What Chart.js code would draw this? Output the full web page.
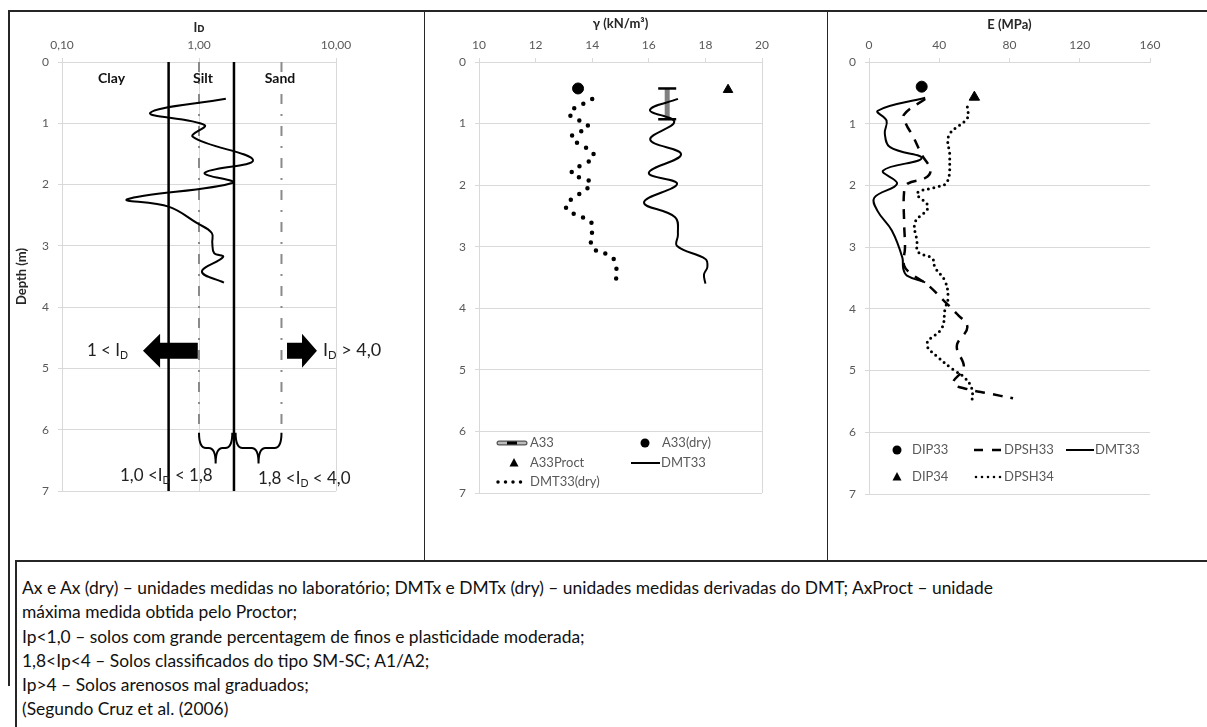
<!DOCTYPE html>
<html><head><meta charset="utf-8">
<script src="https://cdn.jsdelivr.net/npm/chart.js@4.4.1/dist/chart.umd.min.js"></script>
<style>
html,body{margin:0;padding:0;background:#fff;width:1207px;height:727px;overflow:hidden;position:relative;}
#frame{position:absolute;left:8px;top:10px;width:1220px;height:676px;border-left:2px solid #262626;border-top:2px solid #262626;box-sizing:border-box;}
.sep{position:absolute;top:10px;height:552px;width:0;border-left:1.5px solid #262626;}
canvas{position:absolute;}
#caption{position:absolute;left:15px;top:560px;width:1230px;height:200px;border:2px solid #262626;background:#fff;box-sizing:border-box;padding:14px 0 0 5px;font-family:Lato,'Open Sans',sans-serif;font-size:17.4px;line-height:24.3px;color:#111;white-space:nowrap;}
</style></head>
<body>
<div id="frame"></div>
<div class="sep" style="left:424px"></div>
<div class="sep" style="left:827px"></div>
<canvas id="c1" width="414" height="549" style="left:9px;top:11px;width:414px;height:549px"></canvas>
<canvas id="c2" width="401" height="549" style="left:425px;top:11px;width:401px;height:549px"></canvas>
<canvas id="c3" width="378" height="549" style="left:829px;top:11px;width:378px;height:549px"></canvas>
<div id="caption">
Ax e Ax (dry) – unidades medidas no laboratório; DMTx e DMTx (dry) – unidades medidas derivadas do DMT; AxProct – unidade<br>
máxima medida obtida pelo Proctor;<br>
Ip&lt;1,0 – solos com grande percentagem de finos e plasticidade moderada;<br>
1,8&lt;Ip&lt;4 – Solos classificados do tipo SM-SC; A1/A2;<br>
Ip&gt;4 – Solos arenosos mal graduados;<br>
(Segundo Cruz et al. (2006)
</div>
<script>
// ---------------- DATA ----------------
const depthTicks = [0, 1, 2, 3, 4, 5, 6, 7];

// Panel 1 : ID (log)
const idTicks = [0.1, 1, 10];
const idTickLabels = ['0,10', '1,00', '10,00'];
const idDepth = [0.6, 0.83, 1.03, 1.22, 1.6, 1.81, 1.97, 2.24, 2.36, 2.63, 2.79, 2.95, 3.12, 3.18, 3.42, 3.6];
const idValue = [1.57, 0.44, 1.1, 0.9, 2.48, 1.1, 1.77, 0.30, 0.6, 0.97, 1.24, 1.25, 1.29, 1.5, 1.05, 1.52];
const idBoundSolid = [0.6, 1.8];
const idBoundDashDot = [1.0, 4.0];
const dashDotEndDepth = 6.05;
const zoneLabels = ['Clay', 'Silt', 'Sand'];
const zoneLabelId = [0.23, 1.07, 3.9];
const zoneLabelDepth = 0.27;
// arrows: [tail, head base, tip] in ID units; depth of centre
const arrowLeftId = [0.98, 0.52, 0.39];
const arrowRightId = [4.39, 5.65, 7.26];
const arrowDepth = 4.71;
const arrowLabels = [
  {parts: [['1 < I', 0], ['D', 1]], id: 0.152, depth: 4.70, size: 17},
  {parts: [['I', 0], ['D', 1], [' > 4,0', 0]], id: 8.04, depth: 4.70, size: 18}
];
const braceRanges = [[1.0, 1.75], [1.85, 4.0]];
const braceTopDepth = 6.05, braceTipDepth = 6.55;
const rangeLabels = [
  {parts: [['1,0 <I', 0], ['D', 1], [' < 1,8', 0]], id: 0.265, depth: 6.74, size: 17},
  {parts: [['1,8 <I', 0], ['D', 1], [' < 4,0', 0]], id: 2.69, depth: 6.79, size: 17}
];

// Panel 2 : gamma
const gammaTicks = [10, 12, 14, 16, 18, 20];
const a33Gamma = [16.65, 16.65];
const a33Depth = [0.43, 0.93];
const a33DryGamma = [13.5], a33DryDepth = [0.43];
const a33ProctGamma = [18.8], a33ProctDepth = [0.45];
const dmt33Gamma = [17.03, 16.04, 16.9, 16.05, 17.14, 16.0, 17.0, 15.83, 16.93, 17.03, 17.0, 18.0, 18.07, 17.95, 18.0];
const dmt33GammaDepth = [0.6, 0.78, 0.97, 1.26, 1.5, 1.8, 1.98, 2.28, 2.52, 2.8, 2.99, 3.2, 3.33, 3.45, 3.6];
const dmt33Dry = [14.0, 13.2, 13.86, 13.27, 14.06, 13.27, 13.95, 13.07, 13.95, 14.0, 13.95, 14.03, 14.67, 14.84, 14.84];
const dmt33DryDepth = [0.6, 0.84, 1.05, 1.22, 1.52, 1.8, 1.97, 2.35, 2.6, 2.73, 2.9, 3.03, 3.16, 3.3, 3.6];

// Panel 3 : E
const eTicks = [0, 40, 80, 120, 160];
const dip33E = [30], dip33Depth = [0.4];
const dip34E = [60], dip34Depth = [0.57];
const dmt33E = [32, 5, 10, 9, 12, 30, 8, 16, 3, 5, 13, 19, 19.5, 21.6, 32];
const dmt33EDepth = [0.58, 0.79, 0.95, 1.16, 1.38, 1.56, 1.76, 1.97, 2.2, 2.42, 2.73, 3.17, 3.35, 3.46, 3.57];
const dpsh33E = [32, 20, 21, 25, 30, 35, 32, 22, 20, 20, 20.5, 20, 25, 33, 42, 50, 56, 50, 54, 48, 56, 68, 82];
const dpsh33Depth = [0.6, 0.85, 1.0, 1.2, 1.5, 1.75, 1.88, 1.97, 2.1, 2.6, 3.0, 3.3, 3.45, 3.6, 3.85, 4.08, 4.3, 4.6, 4.95, 5.2, 5.3, 5.37, 5.45];
const dpsh34E = [56, 56, 45.5, 46, 44.4, 37.6, 27.4, 33.6, 26.2, 27.3, 28, 36, 37.6, 43.3, 45, 43.3, 41.5, 33, 40.4, 47.8, 54.6, 58.6, 58.6];
const dpsh34Depth = [0.73, 0.91, 1.19, 1.54, 1.95, 2.03, 2.13, 2.35, 2.6, 2.9, 3.08, 3.18, 3.33, 3.55, 3.82, 4.0, 4.31, 4.57, 4.81, 4.98, 5.12, 5.3, 5.53];

// ---------------- STYLE / HELPERS ----------------
const FONT = "Lato, 'Open Sans', sans-serif";
const GRID = '#d9d9d9';
const TICK = '#595959';
const TITLE = '#262626';
const series = (xs, ys) => xs.map((x, i) => ({x: x, y: ys[i]}));

function baseOptions(cfg) {
  return {
    responsive: false, animation: false, devicePixelRatio: 1,
    layout: {padding: {left: 0, top: 0, right: cfg.padR, bottom: cfg.padB}},
    plugins: {legend: {display: false}, tooltip: {enabled: false}},
    elements: {point: {radius: 0}},
    scales: {
      x: {
        type: cfg.xType, position: 'top', min: cfg.xMin, max: cfg.xMax,
        afterBuildTicks: (s) => { s.ticks = cfg.xTicks.map(v => ({value: v})); },
        afterFit: (s) => { s.height = cfg.xH; },
        ticks: {autoSkip: false, maxRotation: 0, color: TICK, font: {family: FONT, size: 12}, padding: 6,
          callback: (v) => cfg.xLabels[cfg.xTicks.indexOf(v)]},
        grid: {drawOnChartArea: true, color: cfg.xGrid, tickColor: GRID, tickLength: 4},
        border: {color: GRID},
        title: {display: true, text: cfg.xTitle, color: TITLE, font: {family: FONT, size: 13, weight: 'bold'},
          padding: {top: cfg.xTitlePad, bottom: 0}}
      },
      y: {
        type: 'linear', reverse: true, min: 0, max: 7,
        afterBuildTicks: (s) => { s.ticks = depthTicks.map(v => ({value: v})); },
        afterFit: (s) => { s.width = cfg.yW; },
        ticks: {color: TICK, font: {family: FONT, size: 12}, padding: 9, callback: (v) => String(v)},
        grid: {color: GRID, tickColor: GRID, tickLength: 4},
        border: {color: GRID},
        title: {display: !!cfg.yTitle, text: cfg.yTitle || '', color: TITLE,
          font: {family: FONT, size: 13, weight: 'bold'}, padding: {top: 5, bottom: 0}}
      }
    }
  };
}

function richText(ctx, x, y, parts, size, color) {
  ctx.save();
  ctx.fillStyle = color; ctx.textBaseline = 'middle'; ctx.textAlign = 'left';
  let cx = x;
  for (const [t, sub] of parts) {
    const fs = sub ? size * 0.62 : size;
    ctx.font = fs + 'px ' + FONT;
    ctx.fillText(t, cx, sub ? y + size * 0.32 : y);
    cx += ctx.measureText(t).width;
  }
  ctx.restore();
}

function drawSymbol(ctx, sym, x0, x1, y) {
  ctx.save();
  ctx.fillStyle = '#000'; ctx.strokeStyle = '#000';
  const xm = (x0 + x1) / 2;
  if (sym === 'circle') {
    ctx.beginPath(); ctx.arc(xm, y, 4.5, 0, Math.PI * 2); ctx.fill();
  } else if (sym === 'triangle') {
    ctx.beginPath(); ctx.moveTo(xm, y - 5); ctx.lineTo(xm + 4.5, y + 3.5); ctx.lineTo(xm - 4.5, y + 3.5); ctx.closePath(); ctx.fill();
  } else if (sym === 'line') {
    ctx.lineWidth = 2; ctx.beginPath(); ctx.moveTo(x0, y); ctx.lineTo(x1, y); ctx.stroke();
  } else if (sym === 'dash') {
    ctx.lineWidth = 2.5; ctx.setLineDash([9, 9]); ctx.beginPath(); ctx.moveTo(x0, y); ctx.lineTo(x1, y); ctx.stroke();
  } else if (sym === 'dots') {
    ctx.lineWidth = 3.5; ctx.lineCap = 'round'; ctx.setLineDash([0, 7.5]);
    ctx.beginPath(); ctx.moveTo(x0 + 2, y); ctx.lineTo(x1, y); ctx.stroke();
  } else if (sym === 'dots4') {
    ctx.lineWidth = 2.6; ctx.lineCap = 'round'; ctx.setLineDash([0, 6]);
    ctx.beginPath(); ctx.moveTo(x0 + 2, y); ctx.lineTo(x1, y); ctx.stroke();
  } else if (sym === 'a33') {
    ctx.lineCap = 'round';
    ctx.strokeStyle = '#555'; ctx.lineWidth = 5; ctx.beginPath(); ctx.moveTo(x0 + 2, y); ctx.lineTo(x1 - 2, y); ctx.stroke();
    ctx.strokeStyle = '#bbb'; ctx.lineWidth = 2.5; ctx.beginPath(); ctx.moveTo(x0 + 2, y); ctx.lineTo(x1 - 2, y); ctx.stroke();
    ctx.strokeStyle = '#000'; ctx.lineWidth = 3; ctx.lineCap = 'butt'; ctx.beginPath(); ctx.moveTo(xm - 5, y); ctx.lineTo(xm + 5, y); ctx.stroke();
  }
  ctx.restore();
}

function legendPlugin(items) {
  return {
    id: 'insideLegend',
    afterDraw(chart) {
      const ctx = chart.ctx, a = chart.chartArea;
      for (const it of items) {
        drawSymbol(ctx, it.sym, a.left + it.x0, a.left + it.x1, a.top + it.dy);
        ctx.save();
        ctx.fillStyle = TICK; ctx.font = '13px ' + FONT; ctx.textBaseline = 'middle'; ctx.textAlign = 'left';
        ctx.fillText(it.label, a.left + it.tx, a.top + it.dy);
        ctx.restore();
      }
    }
  };
}

// ---------------- PANEL 1 ----------------
const annotPlugin = {
  id: 'idAnnotations',
  afterDatasetsDraw(chart) {
    const ctx = chart.ctx, xs = chart.scales.x, ys = chart.scales.y;
    const px = v => xs.getPixelForValue(v), py = v => ys.getPixelForValue(v);
    ctx.save();
    // zone labels
    ctx.fillStyle = '#111'; ctx.font = 'bold 14px ' + FONT; ctx.textAlign = 'center'; ctx.textBaseline = 'middle';
    zoneLabels.forEach((t, i) => ctx.fillText(t, px(zoneLabelId[i]), py(zoneLabelDepth)));
    // arrows
    const yc = py(arrowDepth);
    const drawArrow = (ids) => {
      const [tail, base, tip] = ids.map(px);
      ctx.beginPath();
      ctx.moveTo(tail, yc - 8); ctx.lineTo(base, yc - 8); ctx.lineTo(base, yc - 17);
      ctx.lineTo(tip, yc); ctx.lineTo(base, yc + 17); ctx.lineTo(base, yc + 8); ctx.lineTo(tail, yc + 8);
      ctx.closePath(); ctx.fillStyle = '#000'; ctx.fill();
    };
    drawArrow(arrowLeftId); drawArrow(arrowRightId);
    // braces
    ctx.strokeStyle = '#000'; ctx.lineWidth = 2;
    const yt = py(braceTopDepth), yb = py(braceTipDepth), h = yb - yt, q = h / 2, r = 7;
    braceRanges.forEach(([a, b]) => {
      const x1 = px(a), x2 = px(b), xm = (x1 + x2) / 2;
      ctx.beginPath();
      ctx.moveTo(x1, yt);
      ctx.quadraticCurveTo(x1, yt + q, x1 + r, yt + q);
      ctx.lineTo(xm - r, yt + q);
      ctx.quadraticCurveTo(xm, yt + q, xm, yb);
      ctx.quadraticCurveTo(xm, yt + q, xm + r, yt + q);
      ctx.lineTo(x2 - r, yt + q);
      ctx.quadraticCurveTo(x2, yt + q, x2, yt);
      ctx.stroke();
    });
    ctx.restore();
    arrowLabels.forEach(l => richText(ctx, px(l.id), py(l.depth), l.parts, l.size, '#222'));
    rangeLabels.forEach(l => richText(ctx, px(l.id), py(l.depth), l.parts, l.size, '#222'));
  }
};

const opt1 = baseOptions({xType: 'logarithmic', xMin: 0.1, xMax: 10, xTicks: idTicks, xLabels: idTickLabels,
  xGrid: GRID, xTitle: 'Iᴅ', xTitlePad: 9, xH: 51, yW: 53, padR: 87, padB: 69, yTitle: 'Depth (m)'});
new Chart(document.getElementById('c1'), {
  type: 'scatter',
  data: {datasets: [
    {label: 'ID', data: series(idValue, idDepth), showLine: true, borderColor: '#000', borderWidth: 2, pointRadius: 0, tension: 0.4},
    ...idBoundSolid.map(v => ({label: 'bound ' + v, data: [{x: v, y: 0}, {x: v, y: 7}], showLine: true,
      borderColor: '#000', borderWidth: 2.5, pointRadius: 0, tension: 0})),
    ...idBoundDashDot.map(v => ({label: 'limit ' + v, data: [{x: v, y: 0}, {x: v, y: dashDotEndDepth}], showLine: true,
      borderColor: '#8a8a8a', borderWidth: 2, borderDash: [10, 10, 2, 10], pointRadius: 0, tension: 0}))
  ]},
  options: opt1,
  plugins: [annotPlugin]
});

// ---------------- PANEL 2 ----------------
const opt2 = baseOptions({xType: 'linear', xMin: 10, xMax: 20, xTicks: gammaTicks, xLabels: gammaTicks.map(String),
  xGrid: (c) => (c.tick && c.tick.value === 20) ? GRID : 'rgba(0,0,0,0)', xTitle: 'γ (kN/m³)', xTitlePad: 5,
  xH: 51, yW: 54, padR: 64, padB: 67});
new Chart(document.getElementById('c2'), {
  type: 'scatter',
  data: {datasets: [
    {label: 'A33(dry)', data: series(a33DryGamma, a33DryDepth), pointStyle: 'circle', pointRadius: 5.5, backgroundColor: '#000', borderColor: '#000'},
    {label: 'A33Proct', data: series(a33ProctGamma, a33ProctDepth), pointStyle: 'triangle', pointRadius: 5.5, backgroundColor: '#000', borderColor: '#000'},
    {label: 'DMT33', data: series(dmt33Gamma, dmt33GammaDepth), showLine: true, borderColor: '#000', borderWidth: 2, pointRadius: 0, tension: 0.4},
    {label: 'A33', data: series(a33Gamma, a33Depth), showLine: true, borderColor: '#808080', borderWidth: 5, tension: 0,
      pointStyle: 'line', pointRadius: 9, pointBorderColor: '#000', pointBorderWidth: 2.5},
    {label: 'DMT33(dry)', data: series(dmt33Dry, dmt33DryDepth), showLine: true, borderColor: '#000', borderWidth: 4.5,
      borderDash: [0, 10], borderCapStyle: 'round', pointRadius: 0, tension: 0.4}
  ]},
  options: opt2,
  plugins: [legendPlugin([
    {sym: 'a33', x0: 18, x1: 48, dy: 381, tx: 51, label: 'A33'},
    {sym: 'circle', x0: 160, x1: 172, dy: 381, tx: 183, label: 'A33(dry)'},
    {sym: 'triangle', x0: 29, x1: 41, dy: 401, tx: 51, label: 'A33Proct'},
    {sym: 'line', x0: 152, x1: 181, dy: 401, tx: 182, label: 'DMT33'},
    {sym: 'dots', x0: 17, x1: 42, dy: 420, tx: 51, label: 'DMT33(dry)'}
  ])]
});

// ---------------- PANEL 3 ----------------
const opt3 = baseOptions({xType: 'linear', xMin: 0, xMax: 160, xTicks: eTicks, xLabels: eTicks.map(String),
  xGrid: 'rgba(0,0,0,0)', xTitle: 'E (MPa)', xTitlePad: 6, xH: 51, yW: 40, padR: 57, padB: 66});
new Chart(document.getElementById('c3'), {
  type: 'scatter',
  data: {datasets: [
    {label: 'DIP33', data: series(dip33E, dip33Depth), pointStyle: 'circle', pointRadius: 5.5, backgroundColor: '#000', borderColor: '#000'},
    {label: 'DIP34', data: series(dip34E, dip34Depth), pointStyle: 'triangle', pointRadius: 6, backgroundColor: '#000', borderColor: '#000'},
    {label: 'DMT33', data: series(dmt33E, dmt33EDepth), showLine: true, borderColor: '#000', borderWidth: 2, pointRadius: 0, tension: 0.4},
    {label: 'DPSH33', data: series(dpsh33E, dpsh33Depth), showLine: true, borderColor: '#000', borderWidth: 2.5,
      borderDash: [10, 8], pointRadius: 0, tension: 0.4},
    {label: 'DPSH34', data: series(dpsh34E, dpsh34Depth), showLine: true, borderColor: '#000', borderWidth: 3,
      borderDash: [0, 5.5], borderCapStyle: 'round', pointRadius: 0, tension: 0.4}
  ]},
  options: opt3,
  plugins: [legendPlugin([
    {sym: 'circle', x0: 22, x1: 34, dy: 388, tx: 43, label: 'DIP33'},
    {sym: 'dash', x0: 105, x1: 132, dy: 388, tx: 135, label: 'DPSH33'},
    {sym: 'line', x0: 197, x1: 225, dy: 388, tx: 226, label: 'DMT33'},
    {sym: 'triangle', x0: 22, x1: 34, dy: 415, tx: 43, label: 'DIP34'},
    {sym: 'dots4', x0: 105, x1: 132, dy: 415, tx: 135, label: 'DPSH34'}
  ])]
});
</script>
</body></html>
